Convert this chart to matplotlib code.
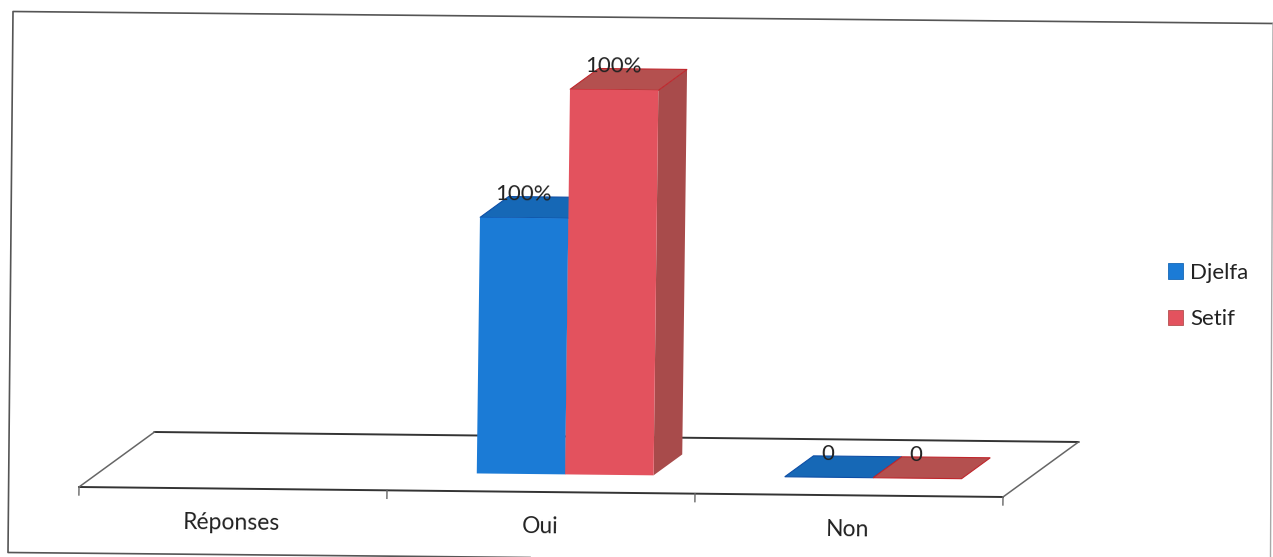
import numpy as np
import matplotlib
matplotlib.use("Agg")
import matplotlib.pyplot as plt
from matplotlib.patches import Polygon, Patch

categories = ["Réponses", "Oui", "Non"]
series_names = ["Djelfa", "Setif"]
djelfa = [np.nan, 100, 0]
setif = [np.nan, 100, 0]
value_labels = {"Djelfa": [None, "100%", "0"], "Setif": [None, "100%", "0"]}

# Oblique projection of the 3D chart onto the page, in pixels
ORIGIN = np.array([79.0, 487.0])
CAT_VEC = np.array([308.0, 3.33])
DEPTH_VEC = np.array([75.5, -55.0])
UP_VEC = np.array([0.0125, -1.0])
PX_PER_UNIT = {"Djelfa": 2.56, "Setif": 3.85}
BAR_W = 0.287
D_FRONT, D_BACK = 0.32, 0.70

STYLE = {
    "Djelfa": dict(front="#1b7bd6", top="#1668b6", side="#14599c", edge="#0d4ea6"),
    "Setif": dict(front="#e3525e", top="#b4504f", side="#a84b4b", edge="#c0262c"),
}
FONT = ["Lato", "DejaVu Sans"]
INK = "#222222"
TILT = -0.58


def project(u, d=0.0, h=0.0):
    return ORIGIN + u * CAT_VEC + d * DEPTH_VEC + h * UP_VEC


fig = plt.figure(figsize=(12.73, 5.57), dpi=100, facecolor="white")
ax = fig.add_axes([0, 0, 1, 1])
ax.set_xlim(0, 1273)
ax.set_ylim(557, 0)
ax.axis("off")

# Outer chart border
ax.plot([1274, 13, 8, 530], [23.5, 11.5, 552.5, 557.5], color="#555555", lw=1.2, zorder=1)
ax.plot([1273, 1270.5], [23.5, 557], color="#a8a8a8", lw=1.0, zorder=1)

# Floor of the plot
n = len(categories)
fl, fr = project(0), project(n)
bl, br = project(0, 1), project(n, 1)
ax.plot(*zip(fl, fr), color="#333333", lw=1.4, zorder=2)
ax.plot(*zip(bl, br), color="#333333", lw=1.4, zorder=2)
ax.plot(*zip(fl, bl), color="#666666", lw=1.1, zorder=2)
ax.plot(*zip(fr, br), color="#666666", lw=1.1, zorder=2)
for u in range(n + 1):
    p = project(u)
    ax.plot([p[0], p[0] - 0.1], [p[1], p[1] + 8], color="#666666", lw=1.0, zorder=2)


def draw_bar(u0, value, style, scale, z):
    h = value * scale
    u1 = u0 + BAR_W
    if h > 0:
        side = [project(u1, D_FRONT), project(u1, D_BACK), project(u1, D_BACK, h), project(u1, D_FRONT, h)]
        ax.add_patch(Polygon(side, closed=True, fc=style["side"], ec="none", zorder=z))
        front = [project(u0, D_FRONT), project(u1, D_FRONT), project(u1, D_FRONT, h), project(u0, D_FRONT, h)]
        ax.add_patch(Polygon(front, closed=True, fc=style["front"], ec="none", zorder=z + 0.2))
    top = [project(u0, D_FRONT, h), project(u1, D_FRONT, h), project(u1, D_BACK, h), project(u0, D_BACK, h)]
    ax.add_patch(Polygon(top, closed=True, fc=style["top"], ec=style["edge"], lw=0.8,
                         joinstyle="miter", zorder=z + 0.1))
    return h


for s, (name, values) in enumerate(zip(series_names, [djelfa, setif])):
    for c, v in enumerate(values):
        if np.isnan(v):
            continue
        u0 = c + 0.5 - BAR_W + s * BAR_W
        h = draw_bar(u0, v, STYLE[name], PX_PER_UNIT[name], 3 + s)
        # Value label: centred over the front edge horizontally, level with the rear edge
        x = project(u0 + BAR_W / 2, D_FRONT, h)[0]
        y = project(u0 + BAR_W / 2, D_BACK, h)[1]
        ax.text(x - 1, y - 2.5, value_labels[name][c], ha="center", va="center",
                family=FONT, fontsize=16, color=INK, rotation=TILT, zorder=8)

# Category labels below the floor
for c, label in enumerate(categories):
    x, y = project(c + 0.5)
    ax.text(x - 1, y + 34.5, label, ha="center", va="center",
            family=FONT, fontsize=16.5, color=INK, rotation=TILT, zorder=8)

legend = ax.legend(
    handles=[Patch(fc=STYLE[nm]["front"], ec=STYLE[nm]["top"], lw=0.6, label=nm) for nm in series_names],
    loc="center left", bbox_to_anchor=(1168 / 1273, 1 - 296 / 557), frameon=False,
    prop={"family": FONT, "size": 16}, labelcolor=INK,
    handlelength=0.68, handleheight=0.68, handletextpad=0.32, labelspacing=1.2,
    borderpad=0, borderaxespad=0,
)

fig.savefig("out.png", dpi=100)
